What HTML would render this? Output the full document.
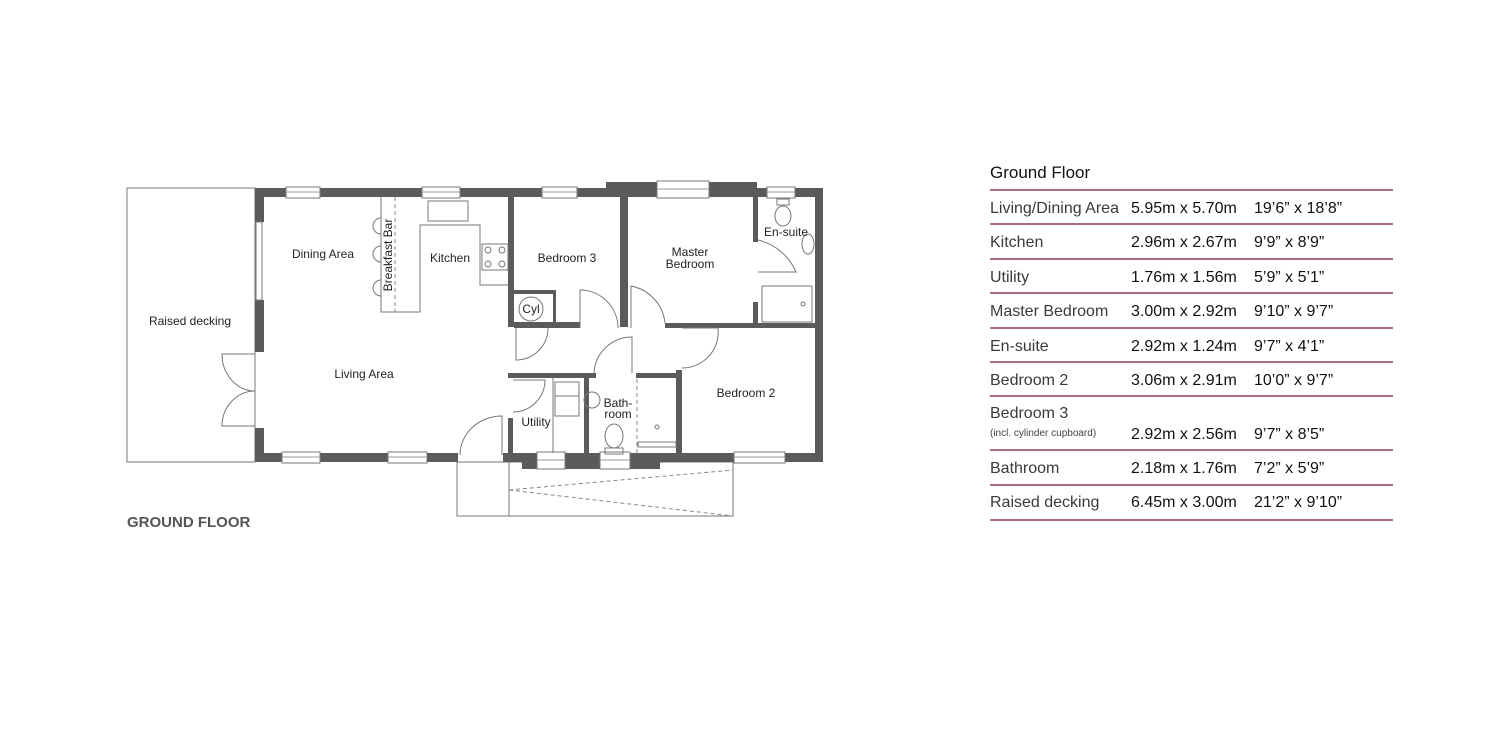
<!DOCTYPE html>
<html><head><meta charset="utf-8"><style>
html,body{margin:0;padding:0;background:#fff;width:1500px;height:747px;overflow:hidden;font-family:"Liberation Sans",sans-serif}
.t{position:absolute;white-space:nowrap;color:#222}
.c1{left:990px;font-size:16px;color:#3a3a3a}
.c2{left:1131px;font-size:16px;color:#111}
.c3{left:1254px;font-size:16px;color:#111}
.ln{position:absolute;left:990px;width:403px;height:2px;background:#a9707c}
</style></head><body>
<svg width="1500" height="747" style="position:absolute;left:0;top:0" font-family="Liberation Sans, sans-serif">
<g fill="none" stroke="#777" stroke-width="1">
<rect x="127" y="188" width="128" height="274"/>
<rect x="457" y="462" width="276" height="54"/>
<line x1="509" y1="462" x2="509" y2="516"/>
</g>
<g stroke="#888" stroke-dasharray="4,3" stroke-width="1">
<line x1="509" y1="490" x2="733" y2="470"/>
<line x1="509" y1="490" x2="733" y2="516"/>
<line x1="395" y1="197" x2="395" y2="312"/>
<line x1="637" y1="379" x2="637" y2="453"/>
</g>
<g fill="#5b5b5d">
<rect x="255" y="188" width="351" height="9"/>
<rect x="606" y="182" width="151" height="15"/>
<rect x="757" y="188" width="66" height="9"/>
<rect x="815" y="188" width="8" height="274"/>
<rect x="255" y="188" width="9" height="34"/>
<rect x="255" y="300" width="9" height="52"/>
<rect x="255" y="428" width="9" height="34"/>
<rect x="255" y="453" width="203" height="9"/>
<rect x="503" y="453" width="320" height="9"/>
<rect x="522" y="453" width="138" height="16"/>
<rect x="508" y="197" width="6" height="130"/>
<rect x="514" y="322" width="66" height="6"/>
<rect x="553" y="293" width="3" height="34"/>
<rect x="514" y="290" width="42" height="4"/>
<rect x="620" y="197" width="8" height="130"/>
<rect x="665" y="323" width="150" height="5"/>
<rect x="753" y="197" width="5" height="45"/>
<rect x="753" y="302" width="5" height="26"/>
<rect x="676" y="370" width="6" height="88"/>
<rect x="508" y="373" width="88" height="5"/>
<rect x="636" y="373" width="46" height="5"/>
<rect x="508" y="418" width="5" height="37"/>
<rect x="584" y="373" width="5" height="85"/>
</g>
<g fill="#fff" stroke="#777" stroke-width="1">
<rect x="286" y="187" width="34" height="11"/><rect x="422" y="187" width="38" height="11"/>
<rect x="542" y="187" width="35" height="11"/><rect x="657" y="181" width="52" height="17"/>
<rect x="767" y="187" width="28" height="11"/>
<rect x="282" y="452" width="38" height="11"/><rect x="388" y="452" width="39" height="11"/>
<rect x="537" y="452" width="28" height="17"/><rect x="600" y="452" width="30" height="17"/>
<rect x="734" y="452" width="51" height="11"/>
<rect x="256" y="222" width="6" height="78"/>
</g>
<g stroke="#999" stroke-width="1">
<line x1="286" y1="192" x2="320" y2="192"/><line x1="422" y1="192" x2="460" y2="192"/>
<line x1="542" y1="192" x2="577" y2="192"/><line x1="657" y1="189" x2="709" y2="189"/>
<line x1="767" y1="192" x2="795" y2="192"/><line x1="282" y1="457" x2="320" y2="457"/>
<line x1="388" y1="457" x2="427" y2="457"/><line x1="537" y1="460" x2="565" y2="460"/>
<line x1="600" y1="460" x2="630" y2="460"/><line x1="734" y1="457" x2="785" y2="457"/>
</g>
<g fill="none" stroke="#777" stroke-width="1">
<path d="M255 354 L222 354 A33 37 0 0 0 255 391"/>
<path d="M255 426 L222 426 A33 35 0 0 1 255 391"/>
<line x1="255" y1="352" x2="255" y2="428"/>
<path d="M502 455 L502 416 A42 39 0 0 0 460 455"/>
<path d="M513 380 L545 380 A32 32 0 0 1 513 412"/>
<path d="M580 328 L580 290 A38 38 0 0 1 618 328" />
<path d="M631 286 L631 328 M631 286 A42 42 0 0 1 665 323"/>
<path d="M516 328 L516 360 A32 32 0 0 0 548 328"/>
<path d="M594 373 A38 38 0 0 1 632 337 L632 373"/>
<path d="M682 328 L718 328 A36 36 0 0 1 682 368"/>
<path d="M758 240 A55 55 0 0 1 796 272 L758 272"/>
<path d="M381 197 L381 312 L420 312 L420 225 L480 225 L480 285 L508 285"/>
<path d="M381 218 A8 8 0 0 0 381 234 M381 246 A8 8 0 0 0 381 262 M381 280 A8 8 0 0 0 381 296"/>
<rect x="428" y="201" width="40" height="20"/>
<rect x="482" y="244" width="26" height="26"/>
<circle cx="488" cy="250" r="3"/><circle cx="502" cy="250" r="3"/><circle cx="488" cy="264" r="3"/><circle cx="502" cy="264" r="3"/>
<circle cx="531" cy="309" r="12"/>
<ellipse cx="783" cy="216" rx="8" ry="10"/><rect x="777" y="199" width="12" height="6"/>
<ellipse cx="808" cy="244" rx="6" ry="10"/>
<rect x="762" y="286" width="50" height="36"/><circle cx="803" cy="304" r="2"/>
<rect x="555" y="382" width="24" height="34"/><line x1="555" y1="396" x2="579" y2="396"/>
<circle cx="592" cy="400" r="8"/>
<ellipse cx="614" cy="436" rx="9" ry="12"/><rect x="605" y="448" width="18" height="6"/>
<rect x="638" y="442" width="38" height="5"/><circle cx="657" cy="427" r="2"/>
<line x1="553" y1="378" x2="553" y2="453"/>
</g>
<g font-size="12" fill="#222" text-anchor="middle">
<text x="323" y="258">Dining Area</text>
<text x="450" y="262">Kitchen</text>
<text x="190" y="325">Raised decking</text>
<text x="364" y="378">Living Area</text>
<text x="567" y="262">Bedroom 3</text>
<text x="690" y="256">Master</text><text x="690" y="268">Bedroom</text>
<text x="786" y="236">En-suite</text>
<text x="531" y="313">Cyl</text>
<text x="746" y="397">Bedroom 2</text>
<text x="536" y="426">Utility</text>
<text x="618" y="407">Bath-</text><text x="618" y="418">room</text>
<text transform="translate(392,255) rotate(-90)">Breakfast Bar</text>
</g>
<text x="127" y="527" font-size="15" font-weight="bold" fill="#555">GROUND FLOOR</text>
</svg>
<div class="t" style="left:990px;top:163px;font-size:17px;color:#111">Ground Floor</div>
<div class="ln" style="top:189px"></div>
<div class="t c1" style="top:200px">Living/Dining Area</div><div class="t c2" style="top:200px">5.95m x 5.70m</div><div class="t c3" style="top:200px">19’6” x 18’8”</div>
<div class="ln" style="top:223px"></div>
<div class="t c1" style="top:234px">Kitchen</div><div class="t c2" style="top:234px">2.96m x 2.67m</div><div class="t c3" style="top:234px">9’9” x 8’9”</div>
<div class="ln" style="top:258px"></div>
<div class="t c1" style="top:269px">Utility</div><div class="t c2" style="top:269px">1.76m x 1.56m</div><div class="t c3" style="top:269px">5’9” x 5’1”</div>
<div class="ln" style="top:292px"></div>
<div class="t c1" style="top:303px">Master Bedroom</div><div class="t c2" style="top:303px">3.00m x 2.92m</div><div class="t c3" style="top:303px">9’10” x 9’7”</div>
<div class="ln" style="top:327px"></div>
<div class="t c1" style="top:338px">En-suite</div><div class="t c2" style="top:338px">2.92m x 1.24m</div><div class="t c3" style="top:338px">9’7” x 4’1”</div>
<div class="ln" style="top:361px"></div>
<div class="t c1" style="top:372px">Bedroom 2</div><div class="t c2" style="top:372px">3.06m x 2.91m</div><div class="t c3" style="top:372px">10’0” x 9’7”</div>
<div class="ln" style="top:395px"></div>
<div class="t c1" style="top:405px">Bedroom 3</div>
<div class="t" style="left:990px;top:428px;font-size:10px;color:#444">(incl. cylinder cupboard)</div>
<div class="t c2" style="top:426px">2.92m x 2.56m</div><div class="t c3" style="top:426px">9’7” x 8’5”</div>
<div class="ln" style="top:449px"></div>
<div class="t c1" style="top:460px">Bathroom</div><div class="t c2" style="top:460px">2.18m x 1.76m</div><div class="t c3" style="top:460px">7’2” x 5’9”</div>
<div class="ln" style="top:484px"></div>
<div class="t c1" style="top:494px">Raised decking</div><div class="t c2" style="top:494px">6.45m x 3.00m</div><div class="t c3" style="top:494px">21’2” x 9’10”</div>
<div class="ln" style="top:519px"></div>
</body></html>
